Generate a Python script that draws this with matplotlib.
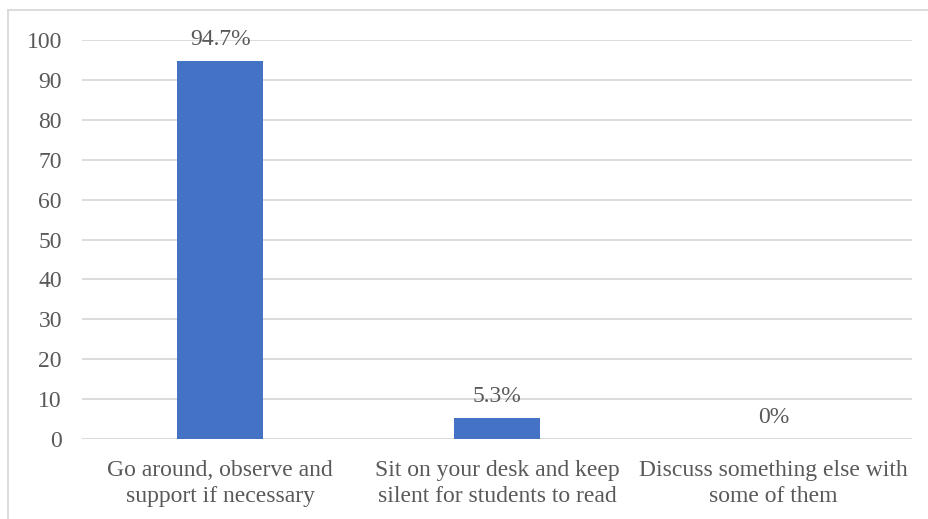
import matplotlib
matplotlib.use("Agg")
import matplotlib.pyplot as plt
from matplotlib.lines import Line2D

categories = ["Go around, observe and\nsupport if necessary",
              "Sit on your desk and keep\nsilent for students to read",
              "Discuss something else with\nsome of them"]
values = [94.7, 5.3, 0]
labels = ["94.7%", "5.3%", "0%"]
yticks = [0, 10, 20, 30, 40, 50, 60, 70, 80, 90, 100]

plt.rcParams['font.family'] = ['Liberation Serif', 'DejaVu Serif']
txt = '#595959'
fs = 17

fig = plt.figure(figsize=(9.29, 5.19), dpi=100)
ax = fig.add_axes([0.0883, 0.1541, 0.8934, 0.7688])
x = list(range(len(categories)))
ax.bar(x, values, width=0.31, color='#4472C4', zorder=3)
for xi, v, l in zip(x, values, labels):
    ax.text(xi, v + 2.8, l, ha='center', va='bottom', fontsize=fs, color=txt)
ax.set_xlim(-0.5, 2.5)
ax.set_ylim(0, 100)
ax.set_yticks(yticks)
ax.set_xticks(x)
ax.set_xticklabels(categories, fontsize=fs, color=txt, linespacing=1.3)
ax.tick_params(axis='y', labelsize=fs, labelcolor=txt, length=0, pad=14.5)
ax.tick_params(axis='x', length=0, pad=15)
ax.grid(axis='y', color='#D9D9D9', linewidth=1.3, zorder=0)
for s in ax.spines.values():
    s.set_visible(False)
ax.axhline(0, color='#D9D9D9', linewidth=1.3, zorder=2)

fig.add_artist(Line2D([8/929, 928/929], [1 - 10/519, 1 - 10/519], color='#D9D9D9', linewidth=1.3, transform=fig.transFigure))
fig.add_artist(Line2D([8/929, 8/929], [0, 1 - 10/519], color='#D9D9D9', linewidth=1.3, transform=fig.transFigure))

fig.savefig('out.png', dpi=100)
